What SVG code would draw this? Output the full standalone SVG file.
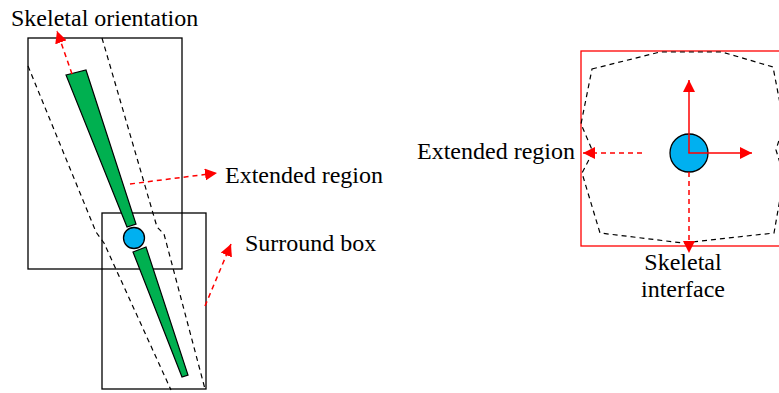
<svg xmlns="http://www.w3.org/2000/svg" width="779" height="393" viewBox="0 0 779 393">
  <style>
    .box { fill: none; stroke: #000; stroke-width: 1.3; }
    .ext { fill: none; stroke: #000; stroke-width: 1.2; stroke-dasharray: 5 4; }
    .bar { fill: #00B050; stroke: #000; stroke-width: 1.2; stroke-linejoin: miter; }
    .joint { fill: #00B0F0; stroke: #000; stroke-width: 1.3; }
    .arrow { fill: none; stroke: #FF0000; stroke-width: 1.5; }
    .dash { stroke-dasharray: 5 4; }
    text { font-family: 'Liberation Serif', 'Times New Roman', serif; font-size: 24px; fill: #000; }
  </style>
  <defs>
    <marker id="head" viewBox="0 0 12 12" refX="12" refY="6" markerWidth="12" markerHeight="12" markerUnits="userSpaceOnUse" orient="auto">
      <path d="M0,0 L12,6 L0,12 z" fill="#FF0000"/>
    </marker>
  </defs>
  <rect width="779" height="393" fill="#fff"/>

  <!-- Left: two surround boxes along a skeleton -->
  <g id="surround-box-upper">
    <rect class="box" x="28" y="38" width="154" height="231"/>
  </g>
  <g id="surround-box-lower">
    <rect class="box" x="102" y="213" width="104" height="176"/>
  </g>
  <g id="extended-region-left">
    <path class="ext" d="M28,66 L96,232 L104,243 L171,390"/>
    <path class="ext" d="M102,38 L157,227 L164,234 L205,389"/>
  </g>
  <g id="bone-upper">
    <polygon class="bar" points="66,75 86,70 136,224 127,227"/>
  </g>
  <g id="bone-lower">
    <polygon class="bar" points="133,252 146,247 188,375 182,377"/>
  </g>
  <g id="joint-left">
    <circle class="joint" cx="134" cy="238" r="10.5"/>
  </g>

  <!-- Right: extended region around a joint -->
  <g id="surround-box-right">
    <rect x="581" y="51" width="200" height="195" fill="none" stroke="#FF0000" stroke-width="1.3"/>
  </g>
  <g id="extended-region-right">
    <path class="ext" d="M592,69 L660,52 L722,52 L773,67 L784,124 L776,150 L784,176 L774,233 L683,243 L600,233 L582,173 L593,152 L581,124 Z"/>
  </g>
  <g id="joint-right">
    <circle class="joint" cx="689" cy="153" r="19"/>
  </g>

  <g id="connectors">
    <line class="arrow dash" x1="72" y1="74" x2="57" y2="31" marker-end="url(#head)"/>
    <line class="arrow dash" x1="130" y1="184" x2="217" y2="173" marker-end="url(#head)"/>
    <line class="arrow dash" x1="205" y1="306" x2="231" y2="244" marker-end="url(#head)"/>
    <line class="arrow" x1="689" y1="153" x2="689" y2="80" marker-end="url(#head)"/>
    <line class="arrow" x1="688.3" y1="153" x2="752" y2="153" marker-end="url(#head)"/>
    <line class="arrow dash" x1="642" y1="153" x2="583" y2="153" marker-end="url(#head)"/>
    <line class="arrow dash" x1="689" y1="172" x2="689" y2="253" marker-end="url(#head)"/>
  </g>

  <g id="labels">
    <text x="11" y="26">Skeletal orientation</text>
    <text x="225" y="183">Extended region</text>
    <text x="245" y="251">Surround box</text>
    <text x="417" y="159">Extended region</text>
    <text x="683" y="270" text-anchor="middle">Skeletal</text>
    <text x="683" y="297" text-anchor="middle">interface</text>
  </g>
</svg>
